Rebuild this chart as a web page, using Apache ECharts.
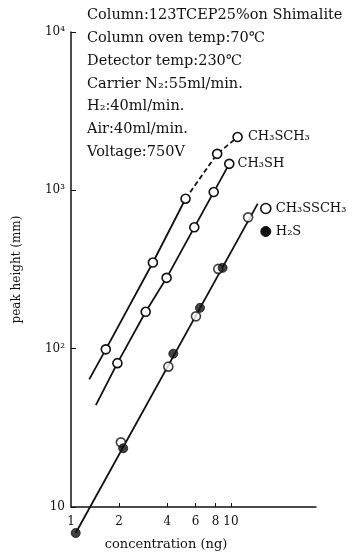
<!DOCTYPE html>
<html>
<head>
<meta charset="utf-8">
<script src="https://cdn.jsdelivr.net/npm/echarts@6/dist/echarts.min.js"></script>
<style>
html,body{margin:0;padding:0;background:#fff;}
#main{width:361px;height:556px;}
</style>
</head>
<body>
<div id="main"></div>
<script>
// 数据: 浓度(ng) / 峰高(mm)
var dmsConc       = [1.30, 1.65, 3.25, 5.2];
var dmsHeight     = [64, 99, 350, 885];
var dmsConcDash   = [5.2, 8.2, 11.0];
var dmsHeightDash = [885, 1700, 2170];
var mtConc   = [1.43, 1.95, 2.93, 3.96, 5.9, 7.8, 9.76];
var mtHeight = [44, 81, 171, 280, 584, 975, 1470];
var dmdsConc   = [2.05, 4.06, 6.04, 8.33, 12.8];
var dmdsHeight = [25.6, 77, 160, 319, 675];
var h2sConc   = [1.07, 2.12, 4.36, 6.4, 8.87];
var h2sHeight = [6.85, 23.5, 93, 181, 324];
var fitConc   = [1.07, 14.7];
var fitHeight = [6.85, 824];
var xTicks = [1, 2, 4, 6, 8, 10];
var yTicks = [10, 100, 1000, 10000];
var yTickText = ['10', '10²', '10³', '10⁴'];
var notes = [
  'Column:123TCEP25%on Shimalite',
  'Column oven temp:70℃',
  'Detector temp:230℃',
  'Carrier N₂:55ml/min.',
  'H₂:40ml/min.',
  'Air:40ml/min.',
  'Voltage:750V'
];

var FONT = '"DejaVu Serif", serif';
var INK = '#111';
var openStyle = {color:'#fff', borderColor:INK, borderWidth:1.6};
var fillStyle = {color:INK, borderColor:INK, borderWidth:1};

//组装点
function pts(xs, ys, bare, labelText, dist){
  var out = [];
  for (var i = 0; i < xs.length; i++){
    var p = {value:[xs[i], ys[i]]};
    if (bare && bare.indexOf(i) >= 0) p.symbol = 'none';
    if (labelText && i == xs.length - 1){
      p.label = {show:true, position:'right', distance:dist, formatter:labelText,
        color:INK, fontFamily:FONT, fontSize:13};
    }
    out.push(p);
  }
  return out;
}

var chart = echarts.init(document.getElementById('main'));
var option = {
  animation:false,
  backgroundColor:'#fff',
  grid:{left:71, right:45, top:32, bottom:48},
  legend:{
    data:[
      {name:'CH₃SSCH₃', icon:'circle', itemStyle:{color:'#fff', borderColor:INK, borderWidth:1.6, opacity:1}},
      {name:'H₂S', icon:'circle', itemStyle:{color:INK, borderColor:INK, borderWidth:1, opacity:1}}
    ],
    orient:'vertical', left:255, top:197,
    itemWidth:10, itemHeight:10, itemGap:10,
    textStyle:{color:INK, fontFamily:FONT, fontSize:13}
  },
  xAxis:{
    type:'log', logBase:10, min:1, max:34,
    axisLine:{show:true, lineStyle:{color:INK, width:1.5}},
    axisTick:{show:true, inside:true, length:4, customValues:xTicks.slice(1), lineStyle:{color:INK}},
    axisLabel:{customValues:xTicks, margin:9, color:INK, fontFamily:FONT, fontSize:12},
    splitLine:{show:false},
    name:'concentration (ng)', nameLocation:'middle', nameGap:31,
    nameTextStyle:{color:INK, fontFamily:FONT, fontSize:13, padding:[0, 55, 0, 0]}
  },
  yAxis:{
    type:'log', logBase:10, min:10, max:10000,
    axisLine:{show:true, lineStyle:{color:INK, width:1.5}},
    axisTick:{show:true, inside:true, length:5, lineStyle:{color:INK}},
    axisLabel:{margin:6, color:INK, fontFamily:FONT, fontSize:12,
      formatter:function(v){ var i = yTicks.indexOf(Math.round(v)); return i >= 0 ? yTickText[i] : ''; }},
    splitLine:{show:false},
    name:'peak height (mm)', nameLocation:'middle', nameGap:48,
    nameTextStyle:{color:INK, fontFamily:FONT, fontSize:12}
  },
  graphic:[{
    type:'text', left:87, top:4,
    style:{text:notes.join('\n'), fill:INK, font:'14.5px ' + FONT, lineHeight:22.8}
  }],
  series:[
    {name:'dms', type:'line', clip:false, symbol:'circle', symbolSize:9, itemStyle:openStyle,
      lineStyle:{color:INK, width:1.8}, z:3,
      data:pts(dmsConc, dmsHeight, [0])},
    {name:'CH₃SCH₃', type:'line', clip:false, symbol:'circle', symbolSize:9, itemStyle:openStyle,
      lineStyle:{color:INK, width:1.8, type:[5,3]}, z:3,
      data:pts(dmsConcDash, dmsHeightDash, [0], 'CH₃SCH₃', 5)},
    {name:'CH₃SH', type:'line', clip:false, symbol:'circle', symbolSize:9, itemStyle:openStyle,
      lineStyle:{color:INK, width:1.8}, z:3,
      data:pts(mtConc, mtHeight, [0], 'CH₃SH', 3)},
    {name:'fit', type:'line', clip:false, symbol:'none',
      lineStyle:{color:INK, width:1.8}, z:2,
      data:pts(fitConc, fitHeight)},
    {name:'CH₃SSCH₃', type:'scatter', clip:false, symbol:'circle', symbolSize:9, itemStyle:openStyle, z:4,
      data:pts(dmdsConc, dmdsHeight)},
    {name:'H₂S', type:'scatter', clip:false, symbol:'circle', symbolSize:9, itemStyle:fillStyle, z:5,
      data:pts(h2sConc, h2sHeight)}
  ]
};
chart.setOption(option);
</script>
</body>
</html>
